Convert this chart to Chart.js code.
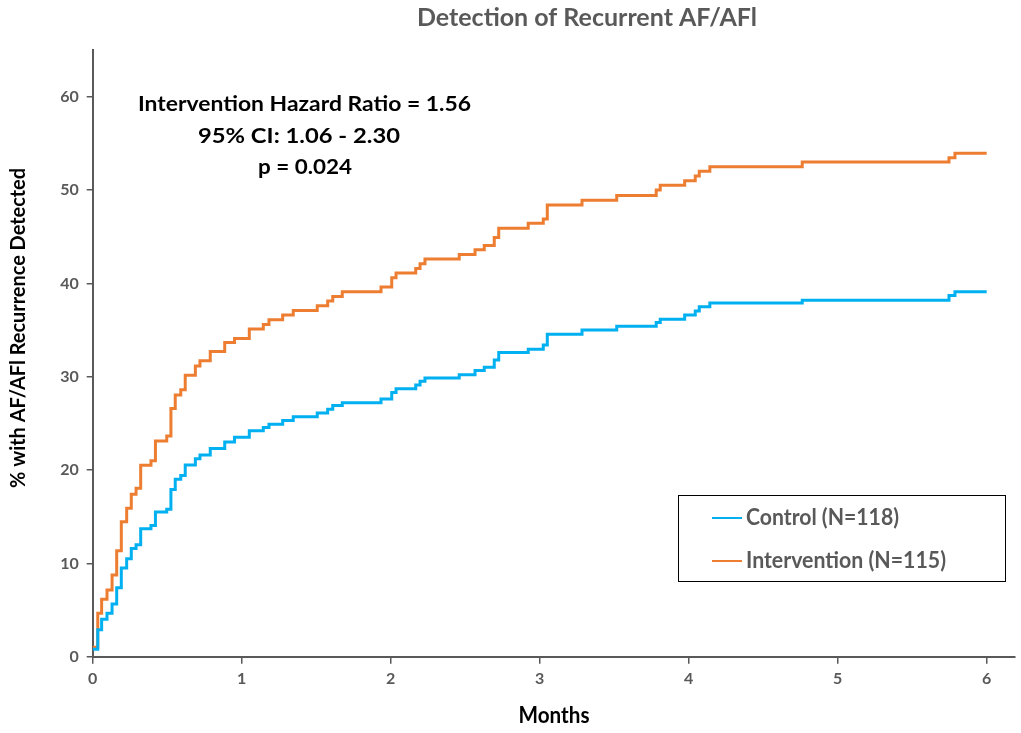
<!DOCTYPE html>
<html><head><meta charset="utf-8">
<script src="https://cdn.jsdelivr.net/npm/chart.js@4.4.1/dist/chart.umd.min.js"></script>
<style>html,body{margin:0;padding:0;background:#fff}#wrap{width:1021px;height:733px;position:relative}</style>
</head><body><div id="wrap"><canvas id="c"></canvas></div>
<script>
// ---- data ----
const months = [0, 0.034, 0.060, 0.096, 0.130, 0.161, 0.192, 0.228, 0.259, 0.291, 0.322, 0.391, 0.421, 0.497, 0.525, 0.554, 0.591, 0.621, 0.689, 0.720, 0.789, 0.886, 0.952, 1.051, 1.145, 1.183, 1.275, 1.346, 1.507, 1.577, 1.611, 1.675, 1.935, 2.007, 2.036, 2.168, 2.197, 2.230, 2.460, 2.566, 2.628, 2.695, 2.725, 2.923, 3.024, 3.051, 3.284, 3.517, 3.782, 3.809, 3.973, 4.044, 4.071, 4.142, 4.762, 5.747, 5.787, 6.0];
const controlPct = [0.8, 2.9, 4.0, 4.65, 5.65, 7.4, 9.5, 10.5, 11.6, 12.0, 13.7, 14.05, 15.5, 15.8, 17.9, 19.0, 19.4, 20.55, 21.2, 21.6, 22.3, 23.0, 23.5, 24.2, 24.55, 24.9, 25.3, 25.7, 26.1, 26.5, 26.9, 27.2, 27.6, 28.3, 28.7, 29.1, 29.5, 29.85, 30.2, 30.65, 31.0, 31.8, 32.6, 32.95, 33.4, 34.55, 35.0, 35.4, 35.8, 36.15, 36.6, 37.05, 37.5, 37.9, 38.2, 38.7, 39.1, 39.1];
const interventionPct = [1.0, 4.65, 6.15, 7.15, 8.75, 11.35, 14.45, 15.9, 17.4, 18.05, 20.5, 21.0, 23.1, 23.65, 26.6, 28.05, 28.6, 30.15, 31.15, 31.7, 32.7, 33.65, 34.1, 35.1, 35.6, 36.1, 36.6, 37.1, 37.6, 38.1, 38.6, 39.1, 39.6, 40.6, 41.1, 41.6, 42.1, 42.6, 43.1, 43.6, 44.05, 44.9, 45.9, 46.45, 46.9, 48.4, 48.9, 49.4, 50.0, 50.5, 51.0, 51.5, 52.0, 52.5, 53.0, 53.45, 53.95, 53.95];
const xTickValues = [0, 1, 2, 3, 4, 5, 6];
const yTickValues = [0, 10, 20, 30, 40, 50, 60];
const seriesLabels = ['Control (N=118)', 'Intervention (N=115)'];
const chartTitle = 'Detection of Recurrent AF/AFl';
const xAxisTitle = 'Months';
const yAxisTitle = '% with AF/AFl Recurrence Detected';
const statLines = ['Intervention Hazard Ratio = 1.56', '95% CI: 1.06 - 2.30', 'p = 0.024'];

const FONT = 'Lato, Carlito, "Open Sans", sans-serif';
const GRAY = '#595959';

function fitText(ctx, text, x, y, width, size, color, align, rotate) {
  ctx.save();
  ctx.font = 'bold ' + size + 'px ' + FONT;
  ctx.fillStyle = color;
  ctx.textBaseline = 'middle';
  ctx.textAlign = align || 'center';
  const w = ctx.measureText(text).width;
  const s = width / w;
  ctx.translate(x, y);
  if (rotate) ctx.rotate(-Math.PI / 2);
  ctx.scale(s, 1);
  ctx.fillText(text, 0, 0);
  ctx.restore();
}

const decor = {
  id: 'decor',
  afterDraw(chart) {
    const ctx = chart.ctx;
    fitText(ctx, chartTitle, 587, 18, 340, 25, GRAY);
    fitText(ctx, statLines[0], 304.5, 104, 333, 21, '#000');
    fitText(ctx, statLines[1], 299, 136, 202, 21, '#000');
    fitText(ctx, statLines[2], 305, 167, 94, 21, '#000');
    fitText(ctx, yAxisTitle, 18, 328, 320, 21, '#000', 'center', true);
    fitText(ctx, xAxisTitle, 554, 716, 71, 22, '#000');
    // legend box
    ctx.save();
    ctx.strokeStyle = '#000';
    ctx.lineWidth = 1;
    ctx.strokeRect(678.5, 495.5, 327, 86);
    const ds = chart.data.datasets;
    const rows = [518, 561];
    const widths = [153, 200];
    ds.forEach((d, i) => {
      ctx.strokeStyle = d.borderColor;
      ctx.lineWidth = 2;
      ctx.beginPath();
      ctx.moveTo(712, rows[i]);
      ctx.lineTo(742, rows[i]);
      ctx.stroke();
      fitText(ctx, d.label, 746, rows[i], widths[i], 22, GRAY, 'left');
    });
    ctx.restore();
  }
};

new Chart(document.getElementById('c'), {
  type: 'line',
  data: {
    datasets: [
      { label: seriesLabels[0], data: months.map((m, i) => ({ x: m, y: controlPct[i] })),
        borderColor: '#00B0F0', borderWidth: 3, stepped: true, pointRadius: 0, fill: false },
      { label: seriesLabels[1], data: months.map((m, i) => ({ x: m, y: interventionPct[i] })),
        borderColor: '#ED7D31', borderWidth: 3, stepped: true, pointRadius: 0, fill: false }
    ]
  },
  options: {
    responsive: true,
    maintainAspectRatio: false,
    animation: false,
    layout: { padding: { top: 50, right: 6, left: 0, bottom: 0 } },
    plugins: { legend: { display: false }, title: { display: false }, tooltip: { enabled: false } },
    scales: {
      x: {
        type: 'linear', min: 0, max: 6.19,
        afterBuildTicks: (s) => { s.ticks = xTickValues.map(v => ({ value: v })); },
        afterFit: (s) => { s.height = 76.3; },
        grid: { drawOnChartArea: false, drawTicks: true, tickLength: 7, color: GRAY, lineWidth: 1.5 },
        border: { color: GRAY, width: 2 },
        ticks: { color: GRAY, padding: 6, font: { family: FONT, size: 16, weight: 'bold' } }
      },
      y: {
        type: 'linear', min: 0, max: 65,
        afterBuildTicks: (s) => { s.ticks = yTickValues.map(v => ({ value: v })); },
        afterFit: (s) => { s.width = 92.7; },
        grid: { drawOnChartArea: false, drawTicks: true, tickLength: 6, color: GRAY, lineWidth: 1.5 },
        border: { color: GRAY, width: 2 },
        ticks: { color: GRAY, padding: 8, font: { family: FONT, size: 16, weight: 'bold' } }
      }
    }
  },
  plugins: [decor]
});
</script>
</body></html>
